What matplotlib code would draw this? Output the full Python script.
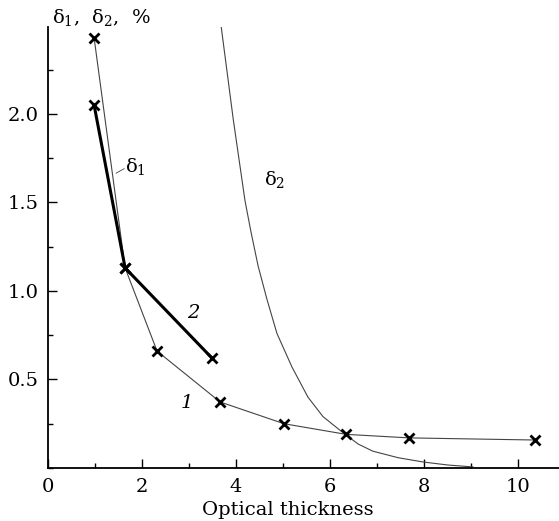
import numpy as np
import matplotlib
matplotlib.use('Agg')
import matplotlib.pyplot as plt
from matplotlib.ticker import MultipleLocator

plt.rcParams['font.family'] = ['DejaVu Serif']
plt.rcParams['mathtext.fontset'] = 'dejavuserif'

# curve 1: delta_1 measured points
tau1 = [0.98, 1.64, 2.32, 3.66, 5.02, 6.34, 7.68, 10.36]
d1 = [2.43, 1.13, 0.66, 0.373, 0.25, 0.19, 0.17, 0.158]

# curve 2: second series
tau2 = [0.98, 1.64, 3.49]
d2 = [2.05, 1.13, 0.62]

# delta_2 smooth curve
tau_d2 = [3.68, 3.94, 4.19, 4.32, 4.47, 4.66, 4.87, 5.19, 5.53, 5.85, 6.32, 6.60, 6.91, 7.45, 7.98, 8.50, 9.04]
val_d2 = [2.50, 1.97, 1.51, 1.33, 1.14, 0.95, 0.76, 0.57, 0.40, 0.29, 0.19, 0.135, 0.095, 0.058, 0.034, 0.017, 0.006]

fig = plt.figure(figsize=(5.59, 5.21), dpi=100)
ax = fig.add_axes([48 / 559, 53 / 521, 1 - 48 / 559, (468 - 27) / 521])

ax.plot(tau_d2, val_d2, color='#444444', lw=0.8)
ax.plot(tau1, d1, color='#444444', lw=0.8)
ax.plot(tau2, d2, color='black', lw=2.2)
ax.plot(tau1, d1, ls='none', marker='x', color='black', ms=7, mew=2)
ax.plot(tau2, d2, ls='none', marker='x', color='black', ms=7, mew=2)

ax.set_xlim(0, 10.87)
ax.set_ylim(0, 2.49)
ax.spines['top'].set_visible(False)
ax.spines['right'].set_visible(False)
for s in ['left', 'bottom']:
    ax.spines[s].set_linewidth(1.3)

ax.xaxis.set_major_locator(MultipleLocator(2))
ax.xaxis.set_minor_locator(MultipleLocator(1))
ax.set_yticks([0.5, 1.0, 1.5, 2.0])
ax.set_yticklabels(['0.5', '1.0', '1.5', '2.0'])
ax.yaxis.set_minor_locator(MultipleLocator(0.25))
ax.tick_params(which='major', direction='in', length=6.5, width=1, labelsize=14, pad=7)
ax.tick_params(which='minor', direction='in', length=3.6, width=1)

ax.text(1.64, 1.70, 'δ$_1$', fontsize=14, va='center', ha='left')
ax.plot([1.45, 1.62], [1.665, 1.69], color='#444444', lw=0.6)
ax.text(4.81, 1.63, 'δ$_2$', fontsize=14, va='center', ha='center')
ax.text(3.09, 0.876, '2', fontsize=14, style='italic', va='center', ha='center')
ax.text(2.96, 0.367, '1', fontsize=14, style='italic', va='center', ha='center')

fig.text(52 / 559, 1 - 17 / 521, 'δ$_1$,  δ$_2$,  %', fontsize=14, va='center', ha='left')
fig.text(288 / 559, 1 - 510 / 521, 'Optical thickness', fontsize=14, va='center', ha='center')

fig.savefig('out.png', dpi=100)
